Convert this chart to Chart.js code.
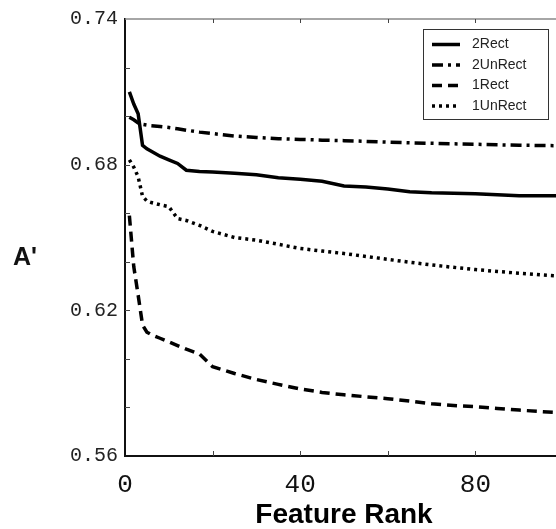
<!DOCTYPE html>
<html>
<head>
<meta charset="utf-8">
<script src="https://cdn.jsdelivr.net/npm/chart.js@4.4.1/dist/chart.umd.min.js"></script>
<style>
  html, body { margin: 0; padding: 0; background: #fff; overflow: hidden; }
  #wrap { position: relative; width: 580px; height: 529px; }
</style>
</head>
<body>
<div id="wrap"><canvas id="c" width="580" height="529"></canvas></div>
<script>
// ---- data ----
const featureRank = [1, 2, 3, 4, 5, 6, 8, 10, 12, 14, 17, 20, 25, 30, 35, 40, 45, 50, 55, 60, 65, 70, 75, 80, 85, 90, 95, 100];
const rect2   = [0.710, 0.705, 0.701, 0.688, 0.6865, 0.6855, 0.6835, 0.682, 0.6805, 0.6777, 0.6772, 0.677, 0.6765, 0.6758, 0.6746, 0.674, 0.6732, 0.6712, 0.6708, 0.6700, 0.6688, 0.6684, 0.6682, 0.668, 0.6676, 0.6672, 0.6672, 0.6672];
const unrect2 = [0.6995, 0.6985, 0.6972, 0.6966, 0.6963, 0.696, 0.6957, 0.6953, 0.6948, 0.6942, 0.6934, 0.6928, 0.6918, 0.6912, 0.6907, 0.6904, 0.6901, 0.6899, 0.6896, 0.6893, 0.689, 0.6888, 0.6886, 0.6884, 0.6882, 0.688, 0.6879, 0.6878];
const rect1   = [0.659, 0.638, 0.6263, 0.614, 0.611, 0.610, 0.6085, 0.607, 0.6055, 0.604, 0.602, 0.5968, 0.594, 0.5915, 0.5895, 0.5876, 0.5862, 0.5852, 0.5844, 0.5836, 0.5826, 0.5815, 0.5808, 0.5803, 0.5796, 0.5789, 0.5783, 0.5778];
const unrect1 = [0.682, 0.679, 0.675, 0.667, 0.665, 0.6644, 0.6635, 0.6627, 0.6578, 0.657, 0.655, 0.6525, 0.650, 0.6489, 0.6472, 0.6455, 0.6444, 0.6434, 0.6422, 0.641, 0.6398, 0.6387, 0.6377, 0.6368, 0.636, 0.6353, 0.6346, 0.634];
const seriesNames = ['2Rect', '2UnRect', '1Rect', '1UnRect'];
const xTickLabels = [0, 40, 80];
const yTickLabels = [0.56, 0.62, 0.68, 0.74];
const xTitle = 'Feature Rank';
const yTitle = "A'";

// ---- styles ----
const seriesValues = [rect2, unrect2, rect1, unrect1];
const dashes = [[], [11, 5, 3, 5], [10, 6], [3, 4]];
const widths = [3.5, 3.5, 3.5, 3.5];

const datasets = seriesNames.map((name, i) => ({
  label: name,
  data: featureRank.map((x, j) => ({ x: x, y: seriesValues[i][j] })),
  borderColor: '#000',
  backgroundColor: '#000',
  borderWidth: widths[i],
  borderDash: dashes[i],
  borderCapStyle: 'butt',
  pointRadius: 0,
  tension: 0,
  fill: false
}));

const decor = {
  id: 'decor',
  afterDatasetsDraw(chart) {
    const ctx = chart.ctx;
    const a = chart.chartArea;
    const xs = chart.scales.x, ys = chart.scales.y;
    ctx.save();
    // top border
    ctx.strokeStyle = '#888';
    ctx.lineWidth = 1.5;
    ctx.beginPath();
    ctx.moveTo(a.left, a.top);
    ctx.lineTo(a.right + 10, a.top);
    ctx.stroke();
    // inner tick marks
    ctx.strokeStyle = '#444';
    ctx.lineWidth = 1;
    ys.ticks.forEach(t => {
      const py = Math.round(ys.getPixelForValue(t.value)) + 0.5;
      if (py > a.bottom - 2 || py < a.top + 2) return;
      ctx.beginPath(); ctx.moveTo(a.left, py); ctx.lineTo(a.left + 5, py); ctx.stroke();
    });
    xs.ticks.forEach(t => {
      const px = Math.round(xs.getPixelForValue(t.value)) + 0.5;
      if (px < a.left + 2) return;
      ctx.beginPath(); ctx.moveTo(px, a.bottom); ctx.lineTo(px, a.bottom - 5); ctx.stroke();
      ctx.beginPath(); ctx.moveTo(px, a.top); ctx.lineTo(px, a.top + 4); ctx.stroke();
    });
    // y title (horizontal)
    ctx.fillStyle = '#111';
    ctx.font = 'bold 25px "Liberation Sans", Arial, sans-serif';
    ctx.textAlign = 'left';
    ctx.textBaseline = 'alphabetic';
    ctx.fillText(yTitle, 13, 265);
    // legend
    const lx = a.right - 140, ly = a.top + 10, lw = 125, lh = 90;
    ctx.fillStyle = '#fff';
    ctx.fillRect(lx, ly, lw, lh);
    ctx.strokeStyle = '#333';
    ctx.lineWidth = 1;
    ctx.strokeRect(lx + 0.5, ly + 0.5, lw, lh);
    ctx.font = '14px "Liberation Sans", Arial, sans-serif';
    ctx.textBaseline = 'middle';
    chart.data.datasets.forEach((ds, i) => {
      const yy = ly + 15.5 + i * 20.5;
      ctx.strokeStyle = '#000';
      ctx.lineWidth = 3.5;
      ctx.setLineDash(ds.borderDash);
      ctx.beginPath(); ctx.moveTo(lx + 9, yy); ctx.lineTo(lx + 37, yy); ctx.stroke();
      ctx.setLineDash([]);
      ctx.fillStyle = '#222';
      ctx.fillText(ds.label, lx + 49, yy);
    });
    ctx.restore();
  }
};

new Chart(document.getElementById('c'), {
  type: 'line',
  data: { datasets },
  options: {
    responsive: false,
    animation: false,
    devicePixelRatio: 1,
    layout: { padding: { left: 0, top: 13, right: 17, bottom: 0 } },
    plugins: { legend: { display: false }, tooltip: { enabled: false } },
    scales: {
      x: {
        type: 'linear', min: 0, max: 100,
        grid: { display: false, drawTicks: false },
        border: { display: true, color: '#111', width: 2 },
        ticks: {
          stepSize: 20, padding: 14, maxRotation: 0, autoSkip: false,
          color: '#111',
          font: { family: '"Liberation Mono", "Courier New", monospace', size: 26 },
          callback: v => xTickLabels.includes(v) ? String(v) : ''
        },
        title: {
          display: true, text: xTitle, color: '#000',
          font: { family: '"Liberation Sans", Arial, sans-serif', size: 28, weight: 'bold', lineHeight: 1.0 },
          padding: { top: 0, bottom: 0 }
        },
        afterFit: s => { s.height = 73; }
      },
      y: {
        type: 'linear', min: 0.56, max: 0.74,
        grid: { display: false, drawTicks: false },
        border: { display: true, color: '#111', width: 2 },
        ticks: {
          stepSize: 0.02, padding: 7, autoSkip: false,
          color: '#222',
          font: { family: '"Liberation Mono", "Courier New", monospace', size: 20 },
          callback: v => yTickLabels.some(t => Math.abs(t - v) < 1e-6) ? v.toFixed(2) : ''
        },
        afterFit: s => { s.width = 125; }
      }
    }
  },
  plugins: [decor]
});
</script>
</body>
</html>
